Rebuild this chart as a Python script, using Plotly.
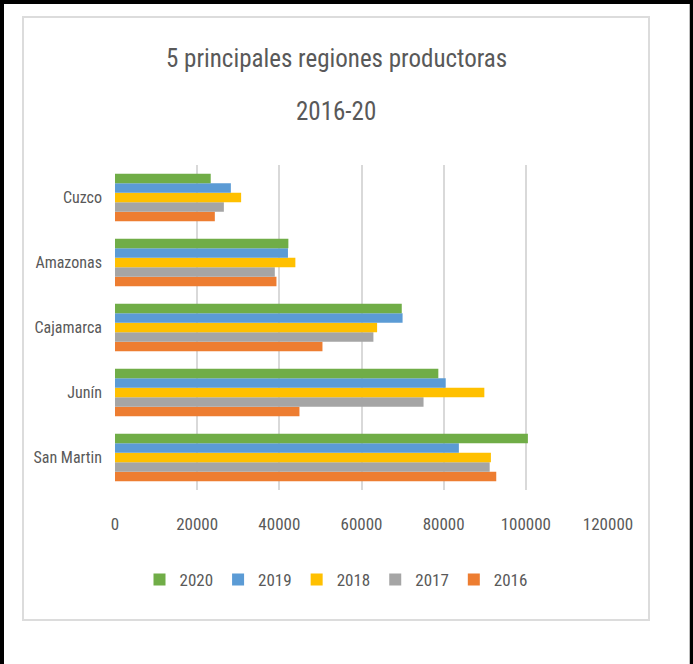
import plotly.graph_objects as go

# data
regions = ['San Martin', 'Junín', 'Cajamarca', 'Amazonas', 'Cuzco']
years = ['2016', '2017', '2018', '2019', '2020']
v2016 = [92800, 44900, 50500, 39300, 24300]
v2017 = [91200, 75100, 62900, 38900, 26500]
v2018 = [91500, 89900, 63800, 43900, 30700]
v2019 = [83700, 80500, 70000, 42100, 28200]
v2020 = [100500, 78700, 69800, 42200, 23300]
x_ticks = [0, 20000, 40000, 60000, 80000, 100000, 120000]

series = [v2016, v2017, v2018, v2019, v2020]
colors = ['#ED7D31', '#A5A5A5', '#FFC000', '#5B9BD5', '#70AD47']

FONT = 'Liberation Sans Narrow, Arial Narrow, Roboto Condensed, sans-serif'
TXT = '#595959'

W, H = 693, 664
L, R, T, B = 115, 85, 165, 174
PW, PH = W - L - R, H - T - B


def px(x):
    return (x - L) / PW


def py(y):
    return (H - B - y) / PH


fig = go.Figure()
for yr, vals, c in zip(years, series, colors):
    fig.add_trace(go.Bar(
        name=yr, y=regions, x=vals, orientation='h',
        marker=dict(color=c, line=dict(width=0)),
    ))

fig.update_layout(
    width=W, height=H,
    margin=dict(l=L, r=R, t=T, b=B),
    barmode='group', bargap=0.27, bargroupgap=0,
    paper_bgcolor='white', plot_bgcolor='white',
    font=dict(family=FONT, color=TXT, size=17),
    showlegend=True,
    legend=dict(orientation='h', traceorder='reversed',
                x=px(336), xanchor='center', y=py(580), yanchor='middle',
                font=dict(size=17), itemwidth=30),
)

fig.update_xaxes(
    range=[0, 120000], tickvals=x_ticks, ticktext=[str(t) for t in x_ticks],
    showgrid=True, gridcolor='#D9D9D9', gridwidth=1.5,
    zeroline=False, showline=False, ticks='', ticklabelstandoff=22,
    tickfont=dict(size=17),
)
fig.update_yaxes(
    categoryorder='array', categoryarray=regions,
    showgrid=False, zeroline=False, showline=False, ticks='',
    ticklabelstandoff=12, tickfont=dict(size=16),
)

# title, two lines as in the original
fig.add_annotation(text='5 principales regiones productoras', xref='paper', yref='paper',
                   x=px(336), y=py(59), xanchor='center', yanchor='middle',
                   showarrow=False, font=dict(size=25, color=TXT))
fig.add_annotation(text='2016-20', xref='paper', yref='paper',
                   x=px(336), y=py(112), xanchor='center', yanchor='middle',
                   showarrow=False, font=dict(size=25, color=TXT))

# chart box and outer frame
fig.add_shape(type='rect', xref='paper', yref='paper',
              x0=px(23), x1=px(649), y0=py(17), y1=py(620),
              line=dict(color='#DCDCDC', width=2), layer='below')
for x0, y0, x1, y1, w in [(2, 0, 2, H, 4), (0, 2, W, 2, 4), (691.5, 0, 691.5, H, 3.5)]:
    fig.add_shape(type='line', xref='paper', yref='paper',
                  x0=px(x0), x1=px(x1), y0=py(y0), y1=py(y1),
                  line=dict(color='black', width=w))

fig.write_html("out.html", config={'displayModeBar': False},
               post_script="document.body.style.margin='0';")
